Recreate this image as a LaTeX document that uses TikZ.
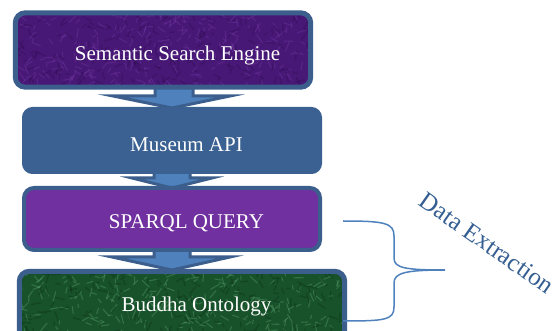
\documentclass[tikz,border=0pt]{standalone}
\usepackage{fontspec}
\setmainfont{Liberation Serif}
\usetikzlibrary{calc}
\definecolor{bordblue}{RGB}{59,94,140}
\definecolor{apiblue}{RGB}{58,97,145}
\definecolor{shaftblue}{RGB}{79,129,189}
\definecolor{sparql}{RGB}{112,48,160}
\definecolor{ssepurple}{RGB}{72,24,118}
\definecolor{ssepurpleL}{RGB}{120,60,170}
\definecolor{ssepurpleD}{RGB}{45,12,80}
\definecolor{ontgreen}{RGB}{24,82,42}
\definecolor{ontgreenL}{RGB}{100,170,120}
\definecolor{ontgreenD}{RGB}{10,45,22}
\definecolor{extract}{RGB}{52,94,145}
\definecolor{bracecol}{RGB}{79,129,189}
\newcommand\mytexture[6]{%
  \begin{scope}
    \clip[rounded corners=9pt] (#1,#2) rectangle ++(#3,#4);
    \foreach \i in {1,...,260}{%
      \pgfmathsetmacro\px{#1+rnd*#3}%
      \pgfmathsetmacro\py{#2+rnd*#4}%
      \pgfmathsetmacro\pa{rnd*360}%
      \pgfmathsetmacro\pl{3+rnd*7}%
      \draw[#5, opacity=.35, line width=1.1pt, line cap=round] (\px,\py) -- ++(\pa:\pl);
    }
    \foreach \i in {1,...,200}{%
      \pgfmathsetmacro\px{#1+rnd*#3}%
      \pgfmathsetmacro\py{#2+rnd*#4}%
      \pgfmathsetmacro\pa{rnd*360}%
      \pgfmathsetmacro\pl{3+rnd*7}%
      \draw[#6, opacity=.35, line width=1.4pt, line cap=round] (\px,\py) -- ++(\pa:\pl);
    }
  \end{scope}}
\begin{document}
\begin{tikzpicture}[x=1pt,y=-1pt,
  box/.style={rectangle, rounded corners=10pt, inner sep=0pt},
  boxlabel/.style={text=white, inner sep=0pt, font=\fontsize{21}{24}\selectfont},
  blockarrow/.style={fill=shaftblue, draw=bordblue, line width=3pt, line join=miter}]
\useasboundingbox (0,0) rectangle (560,331);
\clip (0,0) rectangle (560,331);
\pgfmathsetseed{7}

% block arrows (behind boxes)
\path[blockarrow] (155,80) -- (193,80) -- (193,96) -- (230,96) -- (172,108) -- (113,96) -- (155,96) -- cycle;
\path[blockarrow] (154,170) -- (190,170) -- (190,178) -- (212,178) -- (172,188) -- (132,178) -- (154,178) -- cycle;
\path[blockarrow] (154,248) -- (190,248) -- (190,257) -- (230,257) -- (172,270) -- (112,257) -- (154,257) -- cycle;

% boxes
\node[box, fill=ssepurple, minimum width=295pt, minimum height=74pt] (sse) at (163,50) {};
\mytexture{15.5}{13}{295}{74}{ssepurpleL}{ssepurpleD}
\draw[bordblue, line width=5pt, rounded corners=10pt] (sse.north west) rectangle (sse.south east);

\node[box, fill=apiblue, draw=apiblue, line width=1pt, minimum width=299pt, minimum height=66pt] (api) at (172,140.5) {};

\node[box, fill=sparql, draw=bordblue, line width=4pt, minimum width=296pt, minimum height=62pt] (sparql) at (172,219) {};

\node[box, fill=ontgreen, minimum width=325pt, minimum height=70pt] (onto) at (182,306.5) {};
\mytexture{19.5}{271.5}{325}{70}{ontgreenL}{ontgreenD}
\draw[bordblue, line width=5pt, rounded corners=10pt] (onto.north west) rectangle (onto.south east);

% labels
\node[boxlabel] (t1) at (177.5,55) {Semantic Search Engine};
\node[boxlabel] (t2) at (186.5,145) {Museum API};
\node[boxlabel] (t3) at (186.5,223) {SPARQL QUERY};
\node[boxlabel] (t4) at (196.5,306) {Buddha Ontology};

% brace
\coordinate (btop) at (343,221);
\coordinate (btip) at (445,270);
\coordinate (bbot) at (343,321);
\draw[bracecol, line width=1.5pt]
  (btop) .. controls (385,221) and (394,223) .. (394,236)
  -- (394,258) .. controls (394,268) and (405,270) .. (btip)
  .. controls (405,270) and (394,273) .. (394,283)
  -- (394,307) .. controls (394,320) and (385,321) .. (bbot);

\node[text=extract, rotate=-35, inner sep=0pt, font=\fontsize{25}{30}\selectfont] (dx) at (487,243) {Data Extraction};
\end{tikzpicture}
\end{document}
